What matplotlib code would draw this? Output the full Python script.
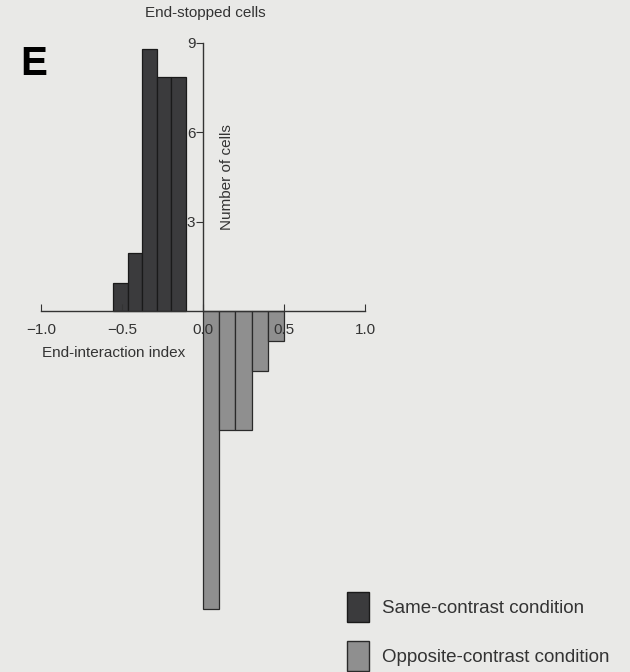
import matplotlib.pyplot as plt
from matplotlib.patches import Patch

plt.rcParams['font.family'] = ['Liberation Sans', 'DejaVu Sans']

# histogram data (bin left edges, counts)
same_edges = [-0.555, -0.465, -0.375, -0.285, -0.195]
same_counts = [0.95, 1.95, 8.8, 7.85, 7.85]
same_width = 0.09

opp_edges = [0.0, 0.1, 0.2, 0.3, 0.4]
opp_counts = [10, 4, 4, 2, 1]
opp_width = 0.1

xticks = [-1.0, -0.5, 0.0, 0.5, 1.0]
xtick_labels = ['\u22121.0', '\u22120.5', '0.0', '0.5', '1.0']
yticks = [3, 6, 9]

bg = '#e9e9e7'
dark = '#3b3b3d'
gray = '#8f8f8f'
txt = '#333333'

fig = plt.figure(figsize=(6.3, 6.72), dpi=100, facecolor=bg)
ax = fig.add_axes([0, 0, 1, 1], facecolor=bg)

# map data units onto the picture: x=0 at 203px, y=0 at 311px from top
ax.set_xlim(-203 / 162, (630 - 203) / 162)
ax.set_ylim(-(672 - 311) / 29.8, 311 / 29.8)

ax.bar(same_edges, same_counts, width=same_width, align='edge',
       color=dark, edgecolor='#1a1a1a', linewidth=0.9, zorder=0.5)
ax.bar(opp_edges, [-c for c in opp_counts], width=opp_width, align='edge',
       color=gray, edgecolor='#2a2a2a', linewidth=0.9, zorder=0.5)

for s in ['top', 'right']:
    ax.spines[s].set_visible(False)
ax.spines['left'].set_position(('data', 0))
ax.spines['bottom'].set_position(('data', 0))
ax.spines['left'].set_bounds(0, 9)
ax.spines['bottom'].set_bounds(-1, 1)
for s in ['left', 'bottom']:
    ax.spines[s].set_color(txt)
    ax.spines[s].set_linewidth(1.0)
    ax.spines[s].set_zorder(3)

ax.set_xticks(xticks)
ax.set_xticklabels(xtick_labels)
ax.set_yticks(yticks)
ax.tick_params(axis='x', direction='in', length=5, pad=9, labelsize=11,
               colors=txt)
ax.tick_params(axis='y', direction='out', length=5, pad=0.5, labelsize=11,
               colors=txt)

ax.text(0.15, 4.5, 'Number of cells', rotation=90, ha='center', va='center',
        fontsize=11, color=txt)
fig.text(42 / 630, 1 - 353 / 672, 'End-interaction index', ha='left',
         va='center', fontsize=11, color=txt)
fig.text(205 / 630, 1 - 13 / 672, 'End-stopped cells', ha='center',
         va='center', fontsize=11, color=txt)
fig.text(20 / 630, 1 - 64 / 672, 'E', ha='left', va='center', fontsize=29,
         fontweight='bold', color='black')

handles = [Patch(facecolor=dark, edgecolor='#1a1a1a'),
           Patch(facecolor=gray, edgecolor='#2a2a2a')]
fig.legend(handles, ['Same-contrast condition', 'Opposite-contrast condition'],
           loc='upper left', bbox_to_anchor=(330 / 630, 1 - 575 / 672),
           frameon=False, fontsize=13.5, handlelength=1.2, handleheight=2.1,
           labelspacing=1.0, handletextpad=0.7, labelcolor=txt)

fig.savefig('out.png', dpi=100, facecolor=bg)
